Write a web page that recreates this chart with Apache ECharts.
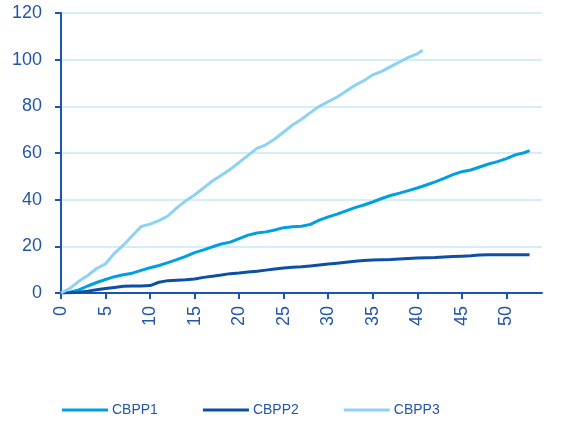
<!DOCTYPE html>
<html>
<head>
<meta charset="utf-8">
<script src="https://cdn.jsdelivr.net/npm/echarts@6/dist/echarts.min.js"></script>
<style>
html,body{margin:0;padding:0;background:#fff;}
#c{width:564px;height:421px;}
</style>
</head>
<body>
<div id="c"></div>
<script>
// week index (x) values shared by the series
const weeks = [0,1,2,3,4,5,6,7,8,9,10,11,12,13,14,15,16,17,18,19,20,21,22,23,24,25,26,27,28,29,30,31,32,33,34,35,36,37,38,39,40,41,42,43,44,45,46,47,48,49,50,51,52,52.6];
const cbpp1 = [0,0.3,1.3,3,4.5,5.8,7,7.8,8.5,9.7,10.8,11.8,13,14.3,15.7,17.3,18.5,19.8,21,21.8,23.3,24.8,25.7,26.2,27,28,28.4,28.6,29.4,31.2,32.6,33.8,35.2,36.6,37.7,39,40.5,41.8,42.8,43.9,45,46.3,47.6,49.1,50.7,52,52.7,54,55.3,56.3,57.6,59.2,60.1,61];
const cbpp2 = [0,0.1,0.3,0.8,1.4,1.9,2.4,2.9,3,3,3.2,4.6,5.3,5.5,5.7,6,6.7,7.2,7.7,8.3,8.6,9,9.3,9.8,10.3,10.7,11,11.2,11.6,12,12.4,12.8,13.2,13.6,13.9,14.1,14.3,14.4,14.6,14.8,15,15.1,15.2,15.4,15.6,15.8,16,16.3,16.4,16.4,16.4,16.4,16.4,16.4];
const weeks3 = [0,1,2,3,4,5,6,7,8,9,10,11,12,13,14,15,16,17,18,19,20,21,22,23,24,25,26,27,28,29,30,31,32,33,34,35,36,37,38,39,40,40.6];
const cbpp3 = [0,2,5,7.5,10.5,12.5,17,20.5,24.5,28.5,29.5,31,33,36.5,39.5,42,45,48,50.5,53,56,59,62,63.5,66,69,72,74.5,77.3,80,82,84,86.5,89,91,93.5,95,97,99,101,102.5,104];
const xTicks = [0,5,10,15,20,25,30,35,40,45,50];
const yTicks = [0,20,40,60,80,100,120];
const seriesNames = ['CBPP1','CBPP2','CBPP3'];

const pairs = (xs, ys) => xs.map((x, i) => [x, ys[i]]);
const axisColor = '#1A55B0';
const labelColor = '#2456A8';
const font = 'Liberation Sans, Arial, sans-serif';

const chart = echarts.init(document.getElementById('c'));
chart.setOption({
  animation: false,
  backgroundColor: '#fff',
  grid: {left: 61, right: 22, top: 13, bottom: 128, containLabel: false},
  xAxis: {
    type: 'value', min: 0, max: 54,
    axisLine: {show: true, lineStyle: {color: axisColor, width: 2}},
    axisTick: {show: true, length: 6, lineStyle: {color: axisColor, width: 2}, customValues: xTicks},
    axisLabel: {rotate: 90, margin: 13, color: labelColor, fontSize: 18, fontFamily: font, customValues: xTicks},
    splitLine: {show: false}
  },
  yAxis: {
    type: 'value', min: 0, max: 120, interval: 20,
    axisLine: {show: true, lineStyle: {color: axisColor, width: 2}},
    axisTick: {show: true, length: 6, lineStyle: {color: axisColor, width: 2}},
    axisLabel: {margin: 19, color: labelColor, fontSize: 18, fontFamily: font, customValues: yTicks},
    splitLine: {show: true, lineStyle: {color: '#C6E8F7', width: 1.5}}
  },
  legend: {
    bottom: 4, left: 62, padding: 0, itemGap: 45, itemWidth: 46, itemHeight: 3,
    icon: 'rect',
    textStyle: {color: labelColor, fontSize: 14, fontFamily: font, padding: [0, 0, 0, -1]},
    data: seriesNames
  },
  series: [
    {name: seriesNames[0], type: 'line', data: pairs(weeks, cbpp1), showSymbol: false, symbol: 'none',
     lineStyle: {color: '#009FE3', width: 3}, itemStyle: {color: '#009FE3'}},
    {name: seriesNames[1], type: 'line', data: pairs(weeks, cbpp2), showSymbol: false, symbol: 'none',
     lineStyle: {color: '#0E4FA6', width: 3}, itemStyle: {color: '#0E4FA6'}},
    {name: seriesNames[2], type: 'line', data: pairs(weeks3, cbpp3), showSymbol: false, symbol: 'none',
     lineStyle: {color: '#8DD2F3', width: 3}, itemStyle: {color: '#8DD2F3'}}
  ]
});
</script>
</body>
</html>
